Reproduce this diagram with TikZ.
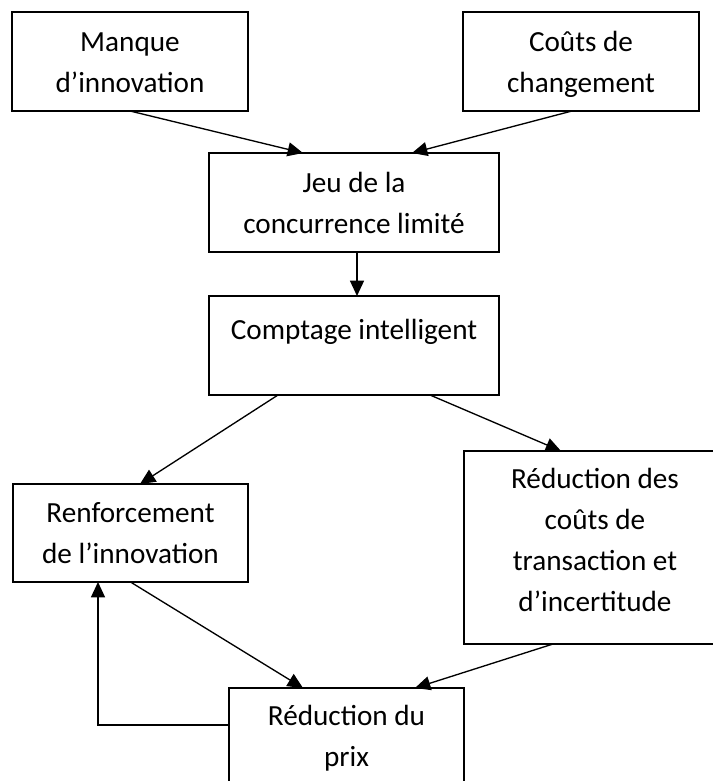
\documentclass[tikz,border=0pt]{standalone}
\usepackage{fontspec}
\setmainfont{Carlito}
\usetikzlibrary{arrows.meta,calc}
\newdimen\px \px=0.75pt
\newcommand\boxtext[4]{\parbox[c][#2\px][t]{#1\px}{\fontsize{21.9pt}{30.75pt}\selectfont\centering\vspace*{\dimexpr #3\px-21.525pt\relax}\strut #4}}
\begin{document}
\begin{tikzpicture}[x=0.75pt,y=-0.75pt,
  box/.style={draw, line width=1.15pt, inner sep=0pt, outer sep=0pt, anchor=north west},
  arr/.style={line width=1pt, -{Triangle[length=11.5pt,width=10.5pt]}}]
\useasboundingbox (0,0) rectangle (713,781);
\node[box] (man) at (12,12) {\boxtext{236}{99}{40}{Manque\\d’innovation}};
\node[box] (cou) at (463,12) {\boxtext{236}{99}{40}{Coûts de\\changement}};
\node[box] (jeu) at (209,153) {\boxtext{290}{99}{39}{Jeu de la\\concurrence limité}};
\node[box] (com) at (209,296) {\boxtext{290}{99}{43}{Comptage intelligent}};
\node[box] (ren) at (13,484) {\boxtext{235}{98}{38}{Renforcement\\de l’innovation}};
\node[box] (red) at (464,451) {\boxtext{262}{193}{37}{Réduction des\\coûts de\\transaction et\\d’incertitude}};
\node[box] (pri) at (229,688) {\boxtext{235}{112}{37}{Réduction du\\prix}};
\draw[arr] (man.south) -- ($(jeu.north)+(-51,0)$);
\draw[arr] ($(cou.south)+(-9,0)$) -- ($(jeu.north)+(58,0)$);
\draw[arr] ($(jeu.south)+(3,0)$) -- ($(com.north)+(3,0)$);
\draw[arr] ($(com.south)+(-76,0)$) -- ($(ren.north)+(9.5,0)$);
\draw[arr] ($(com.south)+(76,0)$) -- ($(red.north west)+(97,0)$);
\draw[arr] (ren.south) -- ($(pri.north west)+(74,0)$);
\draw[arr] ($(red.south west)+(89,0)$) -- ($(pri.north west)+(186,0)$);
\draw[arr] ($(pri.north west)+(0,37)$) -| ($(ren.south west)+(85,0)$);
\end{tikzpicture}
\end{document}
